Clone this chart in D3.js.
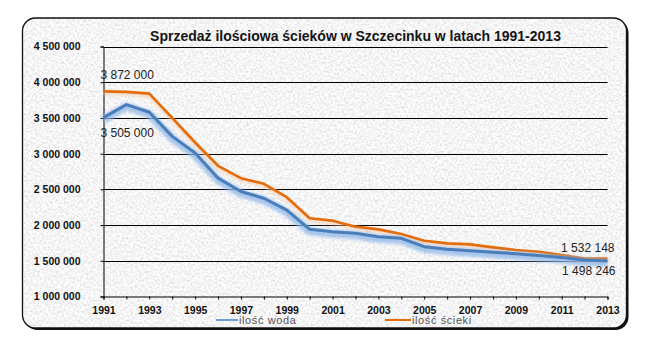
<!DOCTYPE html>
<html>
<head>
<meta charset="utf-8">
<script src="https://cdn.jsdelivr.net/npm/d3@7"></script>
<style>
  html, body { margin: 0; padding: 0; background: #ffffff; }
  svg { display: block; font-family: Arial, "Liberation Sans", sans-serif; }
</style>
</head>
<body>
<svg id="chart" width="645" height="347"></svg>
<script>
// Chart data
const years = d3.range(1991, 2014);
const water = [3505000, 3687000, 3579000, 3242000, 3008000, 2657000, 2470000, 2376000, 2210000,
               1940000, 1908000, 1885000, 1837000, 1815000, 1697000, 1660000, 1640000, 1620000,
               1600000, 1575000, 1545000, 1510000, 1498246];
const sewage = [3872000, 3865000, 3840000, 3500000, 3156000, 2830000, 2657000, 2577000, 2390000,
                2095000, 2062000, 1978000, 1940000, 1875000, 1780000, 1744000, 1730000, 1688000,
                1650000, 1627000, 1580000, 1533000, 1532148];
const yTicks = [1000000, 1500000, 2000000, 2500000, 3000000, 3500000, 4000000, 4500000];
const xTickLabels = [1991, 1993, 1995, 1997, 1999, 2001, 2003, 2005, 2007, 2009, 2011, 2013];
const seriesNames = ["ilość woda", "ilość ścieki"];
const title = "Sprzedaż ilościowa ścieków w Szczecinku w latach 1991-2013";

const plFmt = d3.formatLocale({decimal: ",", thousands: " ", grouping: [3], currency: ["", " zł"]}).format(",d");

const svg = d3.select("#chart");
const defs = svg.append("defs");

// grainy stone-like fill
const grain = defs.append("filter").attr("id", "grain")
  .attr("x", 0).attr("y", 0).attr("width", 1).attr("height", 1);
grain.append("feTurbulence").attr("type", "fractalNoise")
  .attr("baseFrequency", 0.45).attr("numOctaves", 3).attr("seed", 7).attr("result", "n");
grain.append("feColorMatrix").attr("in", "n").attr("type", "matrix")
  .attr("values", "0.5 0 0 0 0.66  0.5 0 0 0 0.66  0.5 0 0 0 0.67  0 0 0 0 1");

const blurSoft = defs.append("filter").attr("id", "soft")
  .attr("x", "-5%").attr("y", "-20%").attr("width", "110%").attr("height", "140%");
blurSoft.append("feGaussianBlur").attr("stdDeviation", 1.6);

const frame = {x: 22.5, y: 18, w: 604, h: 310, r: 13};
defs.append("clipPath").attr("id", "frameClip")
  .append("rect").attr("x", frame.x).attr("y", frame.y)
  .attr("width", frame.w).attr("height", frame.h).attr("rx", frame.r);

// frame with heavier bottom/right edge
svg.append("rect")
  .attr("x", frame.x + 2).attr("y", frame.y + 2)
  .attr("width", frame.w).attr("height", frame.h).attr("rx", frame.r)
  .attr("fill", "#111");
svg.append("rect")
  .attr("x", frame.x).attr("y", frame.y)
  .attr("width", frame.w).attr("height", frame.h)
  .attr("clip-path", "url(#frameClip)")
  .attr("filter", "url(#grain)");
svg.append("rect")
  .attr("x", frame.x).attr("y", frame.y)
  .attr("width", frame.w).attr("height", frame.h).attr("rx", frame.r)
  .attr("fill", "none").attr("stroke", "#111").attr("stroke-width", 1.3);

// scales
const x = d3.scaleLinear().domain([1991, 2013]).range([103.5, 607.5]);
const y = d3.scaleLinear().domain([1000000, 4500000]).range([296.5, 46.5]);

// title
svg.append("text")
  .attr("x", 355.5).attr("y", 41)
  .attr("text-anchor", "middle")
  .attr("font-size", 14).attr("font-weight", "bold").attr("fill", "#151515")
  .text(title);

// horizontal gridlines
svg.append("g")
  .selectAll("line").data(yTicks.slice(1)).join("line")
  .attr("x1", x(1991)).attr("x2", x(2013))
  .attr("y1", d => Math.round(y(d)) + 0.5).attr("y2", d => Math.round(y(d)) + 0.5)
  .attr("stroke", "#000").attr("stroke-width", 1);

// y axis
const yAxis = svg.append("g")
  .attr("transform", `translate(${x(1991)},0)`)
  .call(d3.axisLeft(y).tickValues(yTicks).tickFormat(plFmt).tickSize(3).tickPadding(20));
yAxis.select(".domain").attr("stroke", "#000");
yAxis.selectAll(".tick line").attr("stroke", "#000");
yAxis.selectAll(".tick text")
  .attr("font-family", "Arial, 'Liberation Sans', sans-serif")
  .attr("font-size", 10.5).attr("font-weight", "bold").attr("fill", "#111");

// x axis
const xAxis = svg.append("g")
  .attr("transform", `translate(0,${y(1000000)})`)
  .call(d3.axisBottom(x).tickValues(years).tickSize(3).tickPadding(7)
    .tickFormat(d => xTickLabels.includes(d) ? String(d) : ""));
xAxis.select(".domain").attr("stroke", "#000");
xAxis.selectAll(".tick line").attr("stroke", "#000");
xAxis.selectAll(".tick text")
  .attr("font-family", "Arial, 'Liberation Sans', sans-serif")
  .attr("font-size", 10.5).attr("font-weight", "bold").attr("fill", "#111");

const line = d3.line().x((d, i) => x(years[i])).y(d => y(d));

// ścieki series
svg.append("path").datum(sewage)
  .attr("d", line).attr("transform", "translate(0,2)")
  .attr("fill", "none").attr("stroke", "#f2c9a6").attr("stroke-width", 4)
  .attr("stroke-opacity", 0.6).attr("filter", "url(#soft)");
svg.append("path").datum(sewage)
  .attr("d", line)
  .attr("fill", "none").attr("stroke", "#e46c0a").attr("stroke-width", 2.6)
  .attr("stroke-linejoin", "round");

// woda series
svg.append("path").datum(water)
  .attr("d", line).attr("transform", "translate(0,2)")
  .attr("fill", "none").attr("stroke", "#8db6e8").attr("stroke-width", 8)
  .attr("stroke-opacity", 0.75).attr("filter", "url(#soft)");
svg.append("path").datum(water)
  .attr("d", line)
  .attr("fill", "none").attr("stroke", "#4a7ebb").attr("stroke-width", 3)
  .attr("stroke-linejoin", "round");

// value labels
const last = years.length - 1;
const labels = [
  {v: sewage[0], x: x(years[0]) - 3, dy: -12, anchor: "start"},
  {v: water[0], x: x(years[0]) - 3, dy: 19.5, anchor: "start"},
  {v: sewage[last], x: x(years[last]) + 7, dy: -6, anchor: "end"},
  {v: water[last], x: x(years[last]) + 8, dy: 14.5, anchor: "end"}
];
svg.append("g").selectAll("text").data(labels).join("text")
  .attr("x", d => d.x).attr("y", d => y(d.v) + d.dy)
  .attr("text-anchor", d => d.anchor)
  .attr("font-size", 12).attr("fill", "#222")
  .text(d => plFmt(d.v));

// legend, sitting across the year labels
const legend = [
  {name: seriesNames[0], color: "#6f9fd8", x1: 216, x2: 238},
  {name: seriesNames[1], color: "#e46c0a", x1: 385, x2: 411}
];
const lg = svg.append("g").selectAll("g").data(legend).join("g");
lg.append("line")
  .attr("x1", d => d.x1).attr("x2", d => d.x2)
  .attr("y1", 320).attr("y2", 320)
  .attr("stroke", d => d.color).attr("stroke-width", 2);
lg.append("text")
  .attr("x", d => d.x2 + 1).attr("y", 324)
  .attr("font-size", 11).attr("letter-spacing", 0.6).attr("fill", "#555")
  .text(d => d.name);
</script>
</body>
</html>
